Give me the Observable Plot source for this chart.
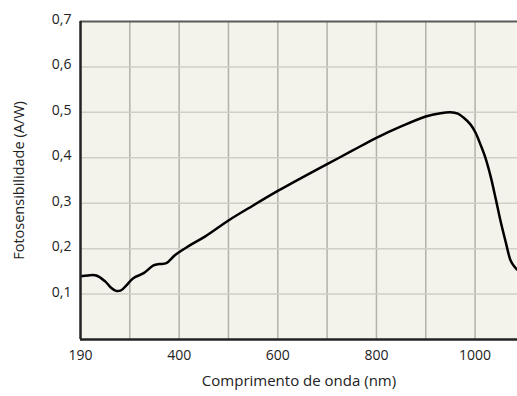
<!DOCTYPE html>
<html>
<head>
<meta charset="utf-8">
<script src="https://cdn.jsdelivr.net/npm/d3@7"></script>
<script src="https://cdn.jsdelivr.net/npm/@observablehq/plot@0.6"></script>
<style>
  html, body { margin: 0; padding: 0; background: #ffffff; }
  #chart svg { display: block; }
</style>
</head>
<body>
<div id="chart"></div>
<script>
// Wavelength (nm) and photosensitivity (A/W)
const wavelength = [200, 215, 232, 250, 262, 272, 282, 292, 307, 328, 348, 360, 374, 392, 420, 453, 500, 550, 600, 650, 700, 750, 800, 850, 900, 930, 950, 965, 977, 991, 1001, 1011, 1021, 1032, 1042, 1052, 1062, 1072, 1080, 1085];
const responsivity = [0.139, 0.141, 0.141, 0.128, 0.114, 0.107, 0.108, 0.118, 0.135, 0.146, 0.163, 0.166, 0.168, 0.186, 0.206, 0.227, 0.262, 0.295, 0.327, 0.357, 0.386, 0.415, 0.444, 0.469, 0.491, 0.498, 0.500, 0.497, 0.488, 0.473, 0.455, 0.429, 0.400, 0.357, 0.309, 0.259, 0.215, 0.174, 0.160, 0.154];

const xTickValues = [200, 400, 600, 800, 1000];
const xTickLabels = ["190", "400", "600", "800", "1000"];
const xGridValues = [300, 400, 500, 600, 700, 800, 900, 1000];
const yTickValues = [0.1, 0.2, 0.3, 0.4, 0.5, 0.6, 0.7];
const yGridValues = [0.1, 0.2, 0.3, 0.4, 0.5, 0.6];

const xDomain = [200, 1086];
const yDomain = [0, 0.7];

const data = wavelength.map((w, i) => ({w, r: responsivity[i]}));
const fmtComma = d => d3.format(".1f")(d).replace(".", ",");

const chart = Plot.plot({
  width: 517,
  height: 396,
  marginLeft: 80,
  marginRight: 0,
  marginTop: 21,
  marginBottom: 57,
  style: {fontFamily: "'Open Sans', sans-serif", fontSize: "13px", color: "#222", background: "#ffffff"},
  x: {domain: xDomain},
  y: {domain: yDomain},
  marks: [
    Plot.frame({fill: "#f3f3eb", stroke: null}),
    Plot.ruleX(xGridValues, {stroke: "#b2b2aa", strokeWidth: 1.5}),
    Plot.ruleY(yGridValues, {stroke: "#cfcfc7", strokeWidth: 1.5}),
    Plot.ruleY([yDomain[1]], {stroke: "#5a5a5a", strokeWidth: 2}),
    Plot.line(data, {x: "w", y: "r", curve: "catmull-rom", stroke: "#000", strokeWidth: 2.5, clip: true}),
    Plot.ruleX([xDomain[0]], {stroke: "#222", strokeWidth: 2.5}),
    Plot.ruleY([yDomain[0]], {stroke: "#222", strokeWidth: 2.5}),
    Plot.axisX({
      ticks: xTickValues,
      tickSize: 0,
      tickPadding: 11,
      tickFormat: d => xTickLabels[xTickValues.indexOf(d)],
      fontSize: 14,
      label: null
    }),
    Plot.axisY({
      ticks: yTickValues,
      tickSize: 0,
      tickPadding: 9,
      tickFormat: fmtComma,
      fontSize: 14,
      dy: -2,
      label: null
    }),
    Plot.text(["Comprimento de onda (nm)"], {
      frameAnchor: "bottom",
      textAnchor: "middle",
      dy: 46,
      fontSize: 15,
      fontFamily: "'Open Sans', sans-serif",
      fill: "#222"
    }),
    Plot.text(["Fotosensibilidade (A/W)"], {
      frameAnchor: "left",
      textAnchor: "middle",
      dx: -61,
      dy: 0,
      rotate: -90,
      fontSize: 14.5,
      fontFamily: "'Open Sans', sans-serif",
      fill: "#222"
    })
  ]
});
document.getElementById("chart").append(chart);
</script>
</body>
</html>
